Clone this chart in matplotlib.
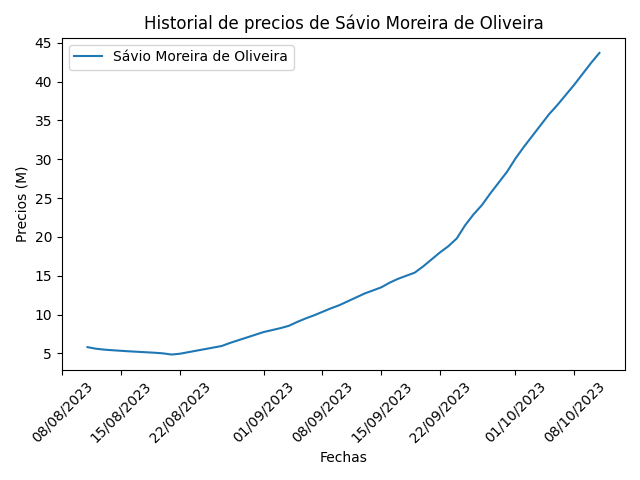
import matplotlib
matplotlib.use("Agg")
import matplotlib.pyplot as plt
import matplotlib.dates as mdates
import numpy as np
import pandas as pd

nombre = "Sávio Moreira de Oliveira"

# precios diarios desde el 11/08/2023 hasta el 11/10/2023
fechas = pd.date_range("2023-08-11", "2023-10-11", freq="D")
precios = [
    5.8, 5.6, 5.48, 5.4, 5.33, 5.26, 5.2, 5.14, 5.08, 5.0,
    4.85, 4.95, 5.15, 5.35, 5.55, 5.75, 5.95, 6.35, 6.7, 7.05,
    7.4, 7.75, 8.0, 8.25, 8.55, 9.05, 9.5, 9.9, 10.35, 10.8,
    11.2, 11.7, 12.2, 12.7, 13.1, 13.5, 14.1, 14.6, 15.0, 15.4,
    16.2, 17.1, 18.0, 18.8, 19.8, 21.5, 22.9, 24.1, 25.6, 27.0,
    28.4, 30.1, 31.6, 33.0, 34.4, 35.8, 37.0, 38.3, 39.6, 41.0,
    42.4, 43.7,
]

fig, ax = plt.subplots(figsize=(6.4, 4.8), dpi=100)
ax.plot(fechas, precios, label=nombre)
ax.set_title("Historial de precios de " + nombre)
ax.set_xlabel("Fechas")
ax.set_ylabel("Precios (M)")
ax.xaxis.set_major_formatter(mdates.DateFormatter("%d/%m/%Y"))
plt.xticks(rotation=45)
ax.legend(loc="upper left")
plt.tight_layout()
plt.savefig("out.png")
